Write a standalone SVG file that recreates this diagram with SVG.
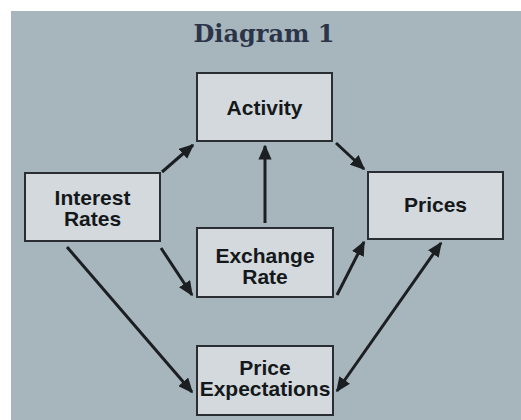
<svg xmlns="http://www.w3.org/2000/svg" width="521" height="420" viewBox="0 0 521 420">
<defs>
<marker id="ah" viewBox="0 0 10 10" refX="9" refY="5" markerWidth="5" markerHeight="4.4" markerUnits="strokeWidth" orient="auto-start-reverse" preserveAspectRatio="none">
<path d="M0,0 L10,5 L0,10 z" fill="#1c1f22"/>
</marker>
</defs>
<style>
.box{fill:#d3d9dc;stroke:#2a2e32;stroke-width:2}
.lbl{font-family:"Liberation Sans",Arial,sans-serif;font-weight:bold;font-size:21px;fill:#15181b;text-anchor:middle}
.ln{stroke:#1c1f22;stroke-width:3;fill:none;marker-end:url(#ah)}
</style>
<rect x="0" y="0" width="521" height="420" fill="#ffffff"/>
<rect x="11" y="11" width="510" height="409" fill="#a7b5bd"/>
<text x="264" y="42" font-family="'DejaVu Serif','Liberation Serif',serif" font-weight="bold" font-size="24" fill="#2b3448" text-anchor="middle">Diagram 1</text>
<g id="connectors">
<line class="ln" x1="162" y1="172" x2="193" y2="145"/>
<line class="ln" x1="336" y1="143" x2="364" y2="169"/>
<line class="ln" x1="265" y1="223" x2="265" y2="146"/>
<line class="ln" x1="161" y1="248" x2="192" y2="295"/>
<line class="ln" x1="337" y1="295" x2="364" y2="242"/>
<line class="ln" x1="67" y1="247" x2="192" y2="392"/>
<line class="ln" x1="337" y1="391" x2="441" y2="243" style="marker-start:url(#ah)"/>
</g>
<g id="activity">
<rect class="box" x="197" y="73" width="135" height="68"/>
<text class="lbl" x="264.5" y="115">Activity</text>
</g>
<g id="interest-rates">
<rect class="box" x="25" y="173" width="135" height="68"/>
<text class="lbl" x="92.5" y="205">Interest</text>
<text class="lbl" x="92.5" y="226">Rates</text>
</g>
<g id="prices">
<rect class="box" x="368" y="172" width="135" height="67"/>
<text class="lbl" x="435.5" y="212">Prices</text>
</g>
<g id="exchange-rate">
<rect class="box" x="197" y="228" width="136" height="69"/>
<text class="lbl" x="265" y="263">Exchange</text>
<text class="lbl" x="265" y="284">Rate</text>
</g>
<g id="price-expectations">
<rect class="box" x="197" y="346" width="136" height="69"/>
<text class="lbl" x="265" y="375">Price</text>
<text class="lbl" x="265" y="396">Expectations</text>
</g>
</svg>
